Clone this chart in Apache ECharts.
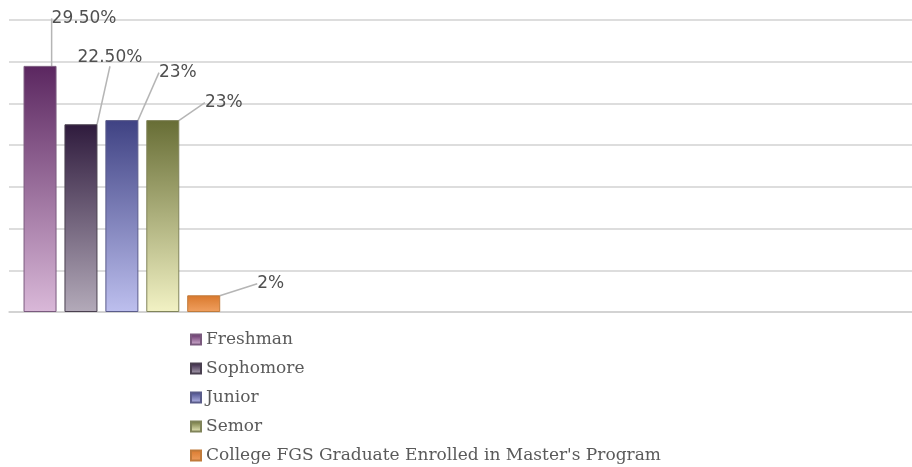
<!DOCTYPE html>
<html><head><meta charset="utf-8">
<script src="https://cdn.jsdelivr.net/npm/echarts@6/dist/echarts.min.js"></script>
<style>html,body{margin:0;padding:0;background:#fff}#c{width:912px;height:467px}</style>
</head><body><div id="c"></div>
<script>
var categories = ['', '', '', ''];
var seriesNames = ['Freshman', 'Sophomore', 'Junior', 'Semor', "College FGS Graduate Enrolled in Master's Program"];
var values = [29.5, 22.5, 23, 23, 2];
var labelTexts = ['29.50%', '22.50%', '23%', '23%', '2%'];
var yTicks = [0, 5, 10, 15, 20, 25, 30, 35];

var topColors = ['#5b2760', '#2f1b3d', '#3f4283', '#676d35', '#d9782c'];
var bottomColors = ['#d9b8d8', '#b3aab9', '#bdbfee', '#f2f2c4', '#f0a060'];
var borderColors = ['#7a5a7e', '#4a4050', '#5a5c8a', '#80845a', '#c07a3a'];
var labelMoves = [[44, -34], [29, -53], [56, -34], [61, -4], [67, 2]];

var series = seriesNames.map(function (n, i) {
  return {
    name: n,
    type: 'bar',
    barWidth: 33,
    barGap: '24%',
    data: [values[i]],
    itemStyle: {
      color: new echarts.graphic.LinearGradient(0, 0, 0, 1, [
        { offset: 0, color: topColors[i] },
        { offset: 1, color: bottomColors[i] }
      ]),
      borderColor: borderColors[i],
      borderWidth: 1
    },
    label: {
      show: true,
      position: 'top',
      formatter: labelTexts[i],
      fontFamily: 'DejaVu Sans',
      fontSize: 17,
      color: '#505050'
    },
    labelLayout: { dx: labelMoves[i][0], dy: labelMoves[i][1] },
    labelLine: { show: true, lineStyle: { color: '#b5b5b5', width: 1.5 } }
  };
});

var chart = echarts.init(document.getElementById('c'));
chart.setOption({
  animation: false,
  backgroundColor: '#fff',
  grid: { left: 9, right: 0, top: 20, bottom: 155, containLabel: false },
  legend: {
    orient: 'vertical',
    left: 190,
    top: 331,
    padding: 0,
    itemWidth: 10,
    itemHeight: 10,
    itemGap: 12,
    icon: 'rect',
    textStyle: { fontFamily: 'DejaVu Serif', fontSize: 17, lineHeight: 17, color: '#5a5a5a' },
    data: seriesNames
  },
  xAxis: {
    type: 'category',
    data: categories,
    axisLine: { show: true, lineStyle: { color: '#cfcfcf', width: 1.5 } },
    axisTick: { show: false },
    axisLabel: { show: false }
  },
  yAxis: {
    type: 'value',
    min: yTicks[0],
    max: yTicks[yTicks.length - 1],
    interval: yTicks[1] - yTicks[0],
    axisLabel: { show: false },
    axisLine: { show: false },
    axisTick: { show: false },
    splitLine: { lineStyle: { color: '#d2d2d2', width: 1.5 } }
  },
  series: series
});
</script></body></html>
